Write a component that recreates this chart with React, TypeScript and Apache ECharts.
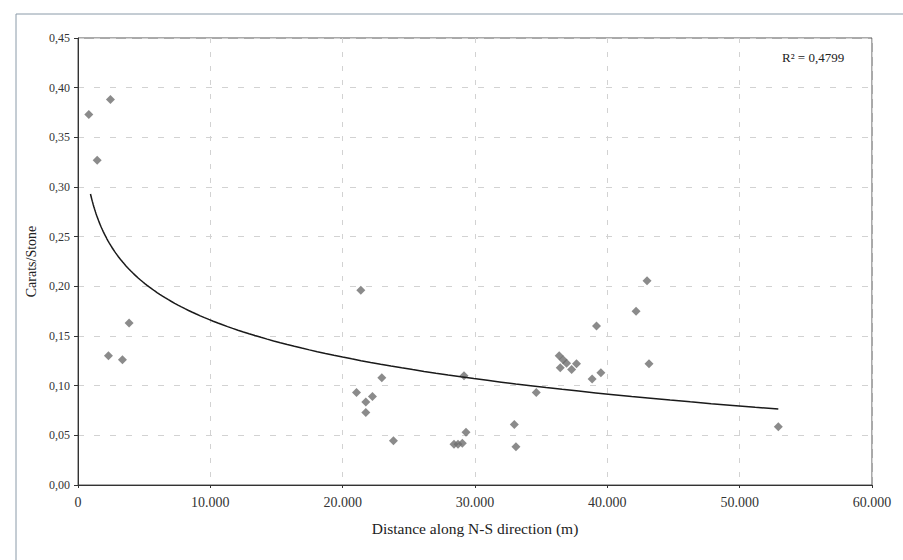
import React, { useEffect, useRef } from "react";
import * as echarts from "echarts";

const distances = [
  815, 1449, 2453, 2302, 3358, 3861,
  21045, 21370, 21750, 21750, 22250, 22960, 23835,
  28415, 28717, 29043, 29170, 29320,
  32970, 33094, 34627,
  36360, 36440, 36660, 36920, 37300, 37670, 38850, 39180, 39510,
  42170, 43000, 43150, 52920,
];
const caratsPerStone = [
  0.373, 0.327, 0.388, 0.130, 0.126, 0.163,
  0.093, 0.196, 0.0835, 0.073, 0.089, 0.108, 0.0446,
  0.041, 0.041, 0.042, 0.110, 0.053,
  0.061, 0.0386, 0.093,
  0.130, 0.118, 0.126, 0.1225, 0.1164, 0.122, 0.1066, 0.160, 0.113,
  0.175, 0.2055, 0.122, 0.0587,
];

// Logarithmic trendline: y = a * ln(x) + b
const TREND_A = -0.05376;
const TREND_B = 0.6612;
const TREND_X_START = 943;
const TREND_X_END = 52920;
const TREND_STEPS = 120;
const R2_LABEL = "R² = 0,4799";

const yTicks = ["0,00", "0,05", "0,10", "0,15", "0,20", "0,25", "0,30", "0,35", "0,40", "0,45"];
const xTicks = ["0", "10.000", "20.000", "30.000", "40.000", "50.000", "60.000"];

export default function App() {
  const ref = useRef<HTMLDivElement>(null);
  useEffect(() => {
    if (!ref.current) return;
    document.body.style.margin = "0";
    const chart = echarts.init(ref.current, undefined, { renderer: "svg" });
    const points = distances.map((d, i) => [d, caratsPerStone[i]]);
    const trend: number[][] = [];
    for (let i = 0; i <= TREND_STEPS; i++) {
      const x = TREND_X_START * Math.pow(TREND_X_END / TREND_X_START, i / TREND_STEPS);
      trend.push([x, TREND_A * Math.log(x) + TREND_B]);
    }
    const font = "Liberation Serif";
    chart.setOption({
      animation: false,
      backgroundColor: "#ffffff",
      textStyle: { fontFamily: font },
      grid: {
        left: 78,
        right: 31,
        top: 38,
        bottom: 75,
        show: true,
        borderColor: "#555",
        borderWidth: 1,
        backgroundColor: "transparent",
      },
      graphic: [
        {
          type: "rect",
          shape: { x: 16, y: 14, width: 900, height: 560 },
          style: { fill: "none", stroke: "#8a9aa8", lineWidth: 1 },
          silent: true,
          z: -10,
        },
        {
          type: "text",
          left: 782,
          top: 51,
          style: { text: R2_LABEL, font: `13px "Liberation Serif"`, fill: "#222" },
        },
      ],
      xAxis: {
        type: "value",
        min: 0,
        max: 60000,
        interval: 10000,
        name: "Distance along N-S direction (m)",
        nameLocation: "middle",
        nameGap: 35,
        nameTextStyle: { fontFamily: font, fontSize: 15.5, color: "#222" },
        axisLine: { show: true, lineStyle: { color: "#333", width: 1 } },
        axisTick: { show: true, length: 3, inside: false, lineStyle: { color: "#333" } },
        axisLabel: {
          fontFamily: font,
          fontSize: 14,
          color: "#333",
          margin: 10,
          formatter: (v: number) => xTicks[Math.round(v / 10000)] ?? "",
        },
        splitLine: { show: true, lineStyle: { color: "#d2d2d2", type: [5, 9], width: 1 } },
      },
      yAxis: {
        type: "value",
        min: 0,
        max: 0.45,
        interval: 0.05,
        name: "Carats/Stone",
        nameLocation: "middle",
        nameGap: 38,
        nameRotate: 90,
        nameTextStyle: { fontFamily: font, fontSize: 14, color: "#222" },
        axisLine: { show: true, lineStyle: { color: "#333", width: 1 } },
        axisTick: { show: true, length: 4, lineStyle: { color: "#333" } },
        axisLabel: {
          fontFamily: font,
          fontSize: 12,
          color: "#333",
          margin: 8,
          formatter: (v: number) => yTicks[Math.round(v / 0.05)] ?? "",
        },
        splitLine: { show: true, lineStyle: { color: "#d2d2d2", type: [6, 10], width: 1 } },
      },
      series: [
        {
          name: "Carats/Stone",
          type: "scatter",
          symbol: "diamond",
          symbolSize: 9,
          itemStyle: { color: "#6e6e6e" },
          data: points,
          z: 3,
        },
        {
          name: "Trend",
          type: "line",
          showSymbol: false,
          symbol: "none",
          lineStyle: { color: "#1a1a1a", width: 1.5 },
          data: trend,
          z: 4,
        },
      ],
    });
    return () => chart.dispose();
  }, []);
  return <div ref={ref} style={{ width: 903, height: 560 }} />;
}
